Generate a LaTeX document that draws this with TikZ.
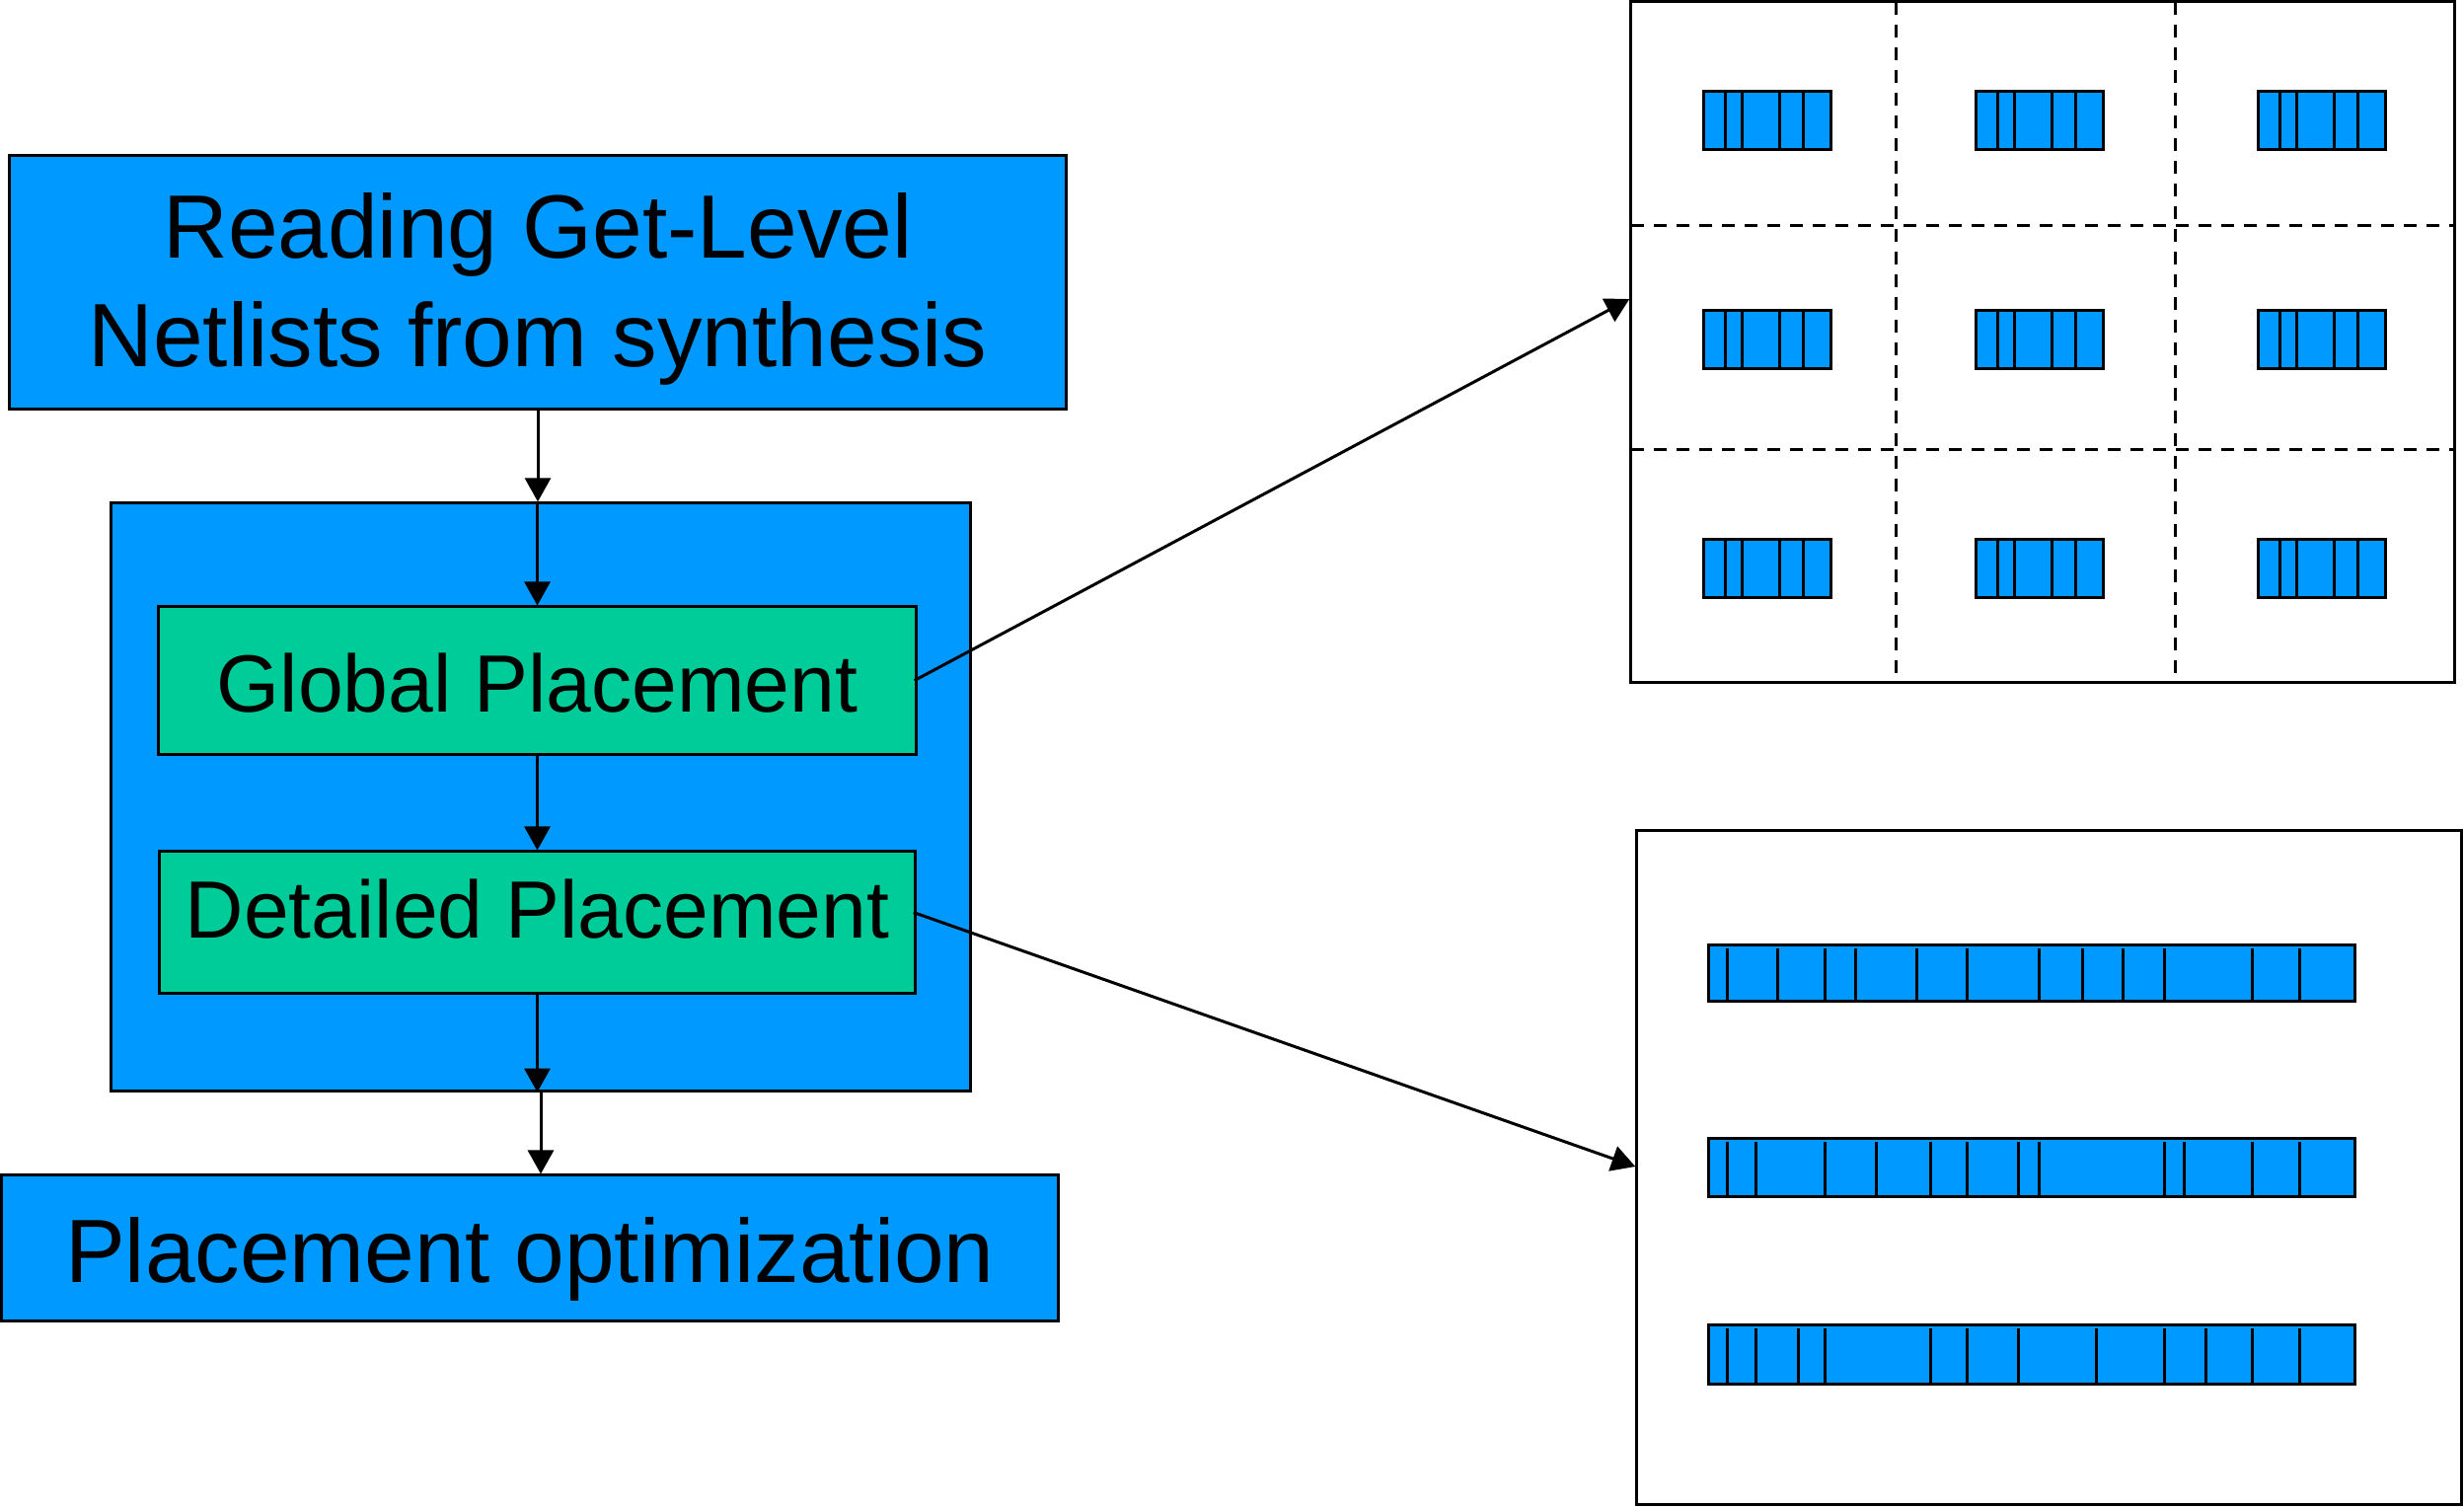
\documentclass[tikz,border=0pt]{standalone}
\usepackage{fontspec}
\setmainfont{Liberation Sans}
\usetikzlibrary{arrows.meta}
\definecolor{cblue}{RGB}{0,153,255}
\definecolor{cgreen}{RGB}{0,204,153}
\newcommand{\shifttext}[2]{\raisebox{#1}[\height][\depth]{#2}}
\tikzset{
  lw/.style={line width=0.85pt},
  bluebox/.style={draw, lw, fill=cblue, inner sep=0pt, align=center},
  greenbox/.style={draw, lw, fill=cgreen, inner sep=0pt, align=center},
  bigtext/.style={font=\fontsize{25.9}{31.3}\selectfont},
  midtext/.style={font=\fontsize{23.4}{28}\selectfont},
  arr/.style={draw, lw, -{Triangle[length=0.24cm, width=0.26cm]}},
  frame/.style={draw, lw, inner sep=0pt},
  gridline/.style={lw, dash pattern=on 0.13cm off 0.10cm},
  cell/.style={draw, lw, fill=cblue}
}
\begin{document}
\begin{tikzpicture}[x=0.01cm, y=-0.01cm]
\useasboundingbox (0,0) rectangle (2497,1526);

% left flow
\node[bluebox, bigtext, minimum width=10.71cm, minimum height=2.56cm] (read) at (545,286)
  {\shifttext{-0.08cm}{\begin{tabular}{@{}c@{}}Reading Get-Level\\Netlists from synthesis\end{tabular}}};
\node[bluebox, minimum width=8.70cm, minimum height=5.95cm] (outer) at (548,807.5) {};
\node[greenbox, midtext, minimum width=7.67cm, minimum height=1.49cm] (global) at (544.5,689.5) {\shifttext{-0.03cm}{Global Placement}};
\node[greenbox, midtext, minimum width=7.65cm, minimum height=1.43cm] (detail) at (544.5,934.5) {\shifttext{0.13cm}{Detailed Placement}};
\node[bluebox, bigtext, minimum width=10.71cm, minimum height=1.47cm] (opt) at (537,1264.5) {\shifttext{-0.11cm}{Placement optimization}};

\draw[arr] (read.south) -- (read.south |- outer.north);
\draw[arr] (global.north |- outer.north) -- (global.north);
\draw[arr] (global.south) -- (detail.north);
\draw[arr] (detail.south) -- (detail.south |- outer.south);
\draw[arr] (outer.south) -- (outer.south |- opt.north);

% global placement grid
\node[frame, minimum width=8.34cm, minimum height=6.89cm] (grid) at (2070,346.5) {};
\draw[gridline] (1921,2) -- (1921,691);
\draw[gridline] (2204,2) -- (2204,691);
\draw[gridline] (1653,228) -- (2487,228);
\draw[gridline] (1653,455) -- (2487,455);
\foreach \cx in {1726,2002,2288}{
  \foreach \cy in {92,314,546}{
    \draw[cell] (\cx,\cy) rectangle ++(129,59);
    \foreach \d in {22,39,77,101}{
      \draw[lw] (\cx+\d,\cy) -- ++(0,59);
    }
  }
}

% detailed placement rows
\node[frame, minimum width=8.35cm, minimum height=6.82cm] (rows) at (2076.5,1183) {};
\draw[cell] (1731,957) rectangle (2386,1014);
\foreach \xx in {1750,1801,1849,1880,1942,1993,2066,2110,2151,2193,2282,2330}{
  \draw[lw] (\xx,961) -- (\xx,1014);
}
\draw[cell] (1731,1153) rectangle (2386,1212);
\foreach \xx in {1750,1779,1849,1901,1956,1993,2045,2066,2193,2213,2282,2330}{
  \draw[lw] (\xx,1157) -- (\xx,1212);
}
\draw[cell] (1731,1342) rectangle (2386,1402);
\foreach \xx in {1750,1779,1822,1849,1956,1993,2045,2124,2193,2235,2282,2330}{
  \draw[lw] (\xx,1346) -- (\xx,1402);
}

% connectors to the illustrations
\coordinate (gin) at (grid.west |- 0,303);
\coordinate (din) at (rows.west |- 0,1182);
\draw[arr] ([xshift=-0.03cm]global.east) -- (gin);
\draw[arr] ([xshift=-0.03cm,yshift=0.1cm]detail.east) -- (din);
\end{tikzpicture}
\end{document}
